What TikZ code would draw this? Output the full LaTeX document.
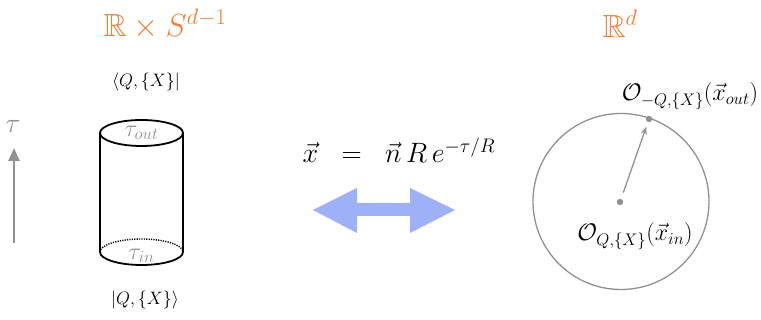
\RequirePackage{fix-cm}
\documentclass[tikz,border=0pt]{standalone}
\usepackage{amsmath,amssymb}
\usetikzlibrary{arrows.meta}
\definecolor{orng}{RGB}{238,128,60}
\definecolor{lblue}{RGB}{158,176,246}
\definecolor{gry}{RGB}{145,145,145}
\tikzset{
  title/.style={text=orng, font=\fontsize{32}{36}\selectfont, inner sep=0pt},
  bra/.style={font=\fontsize{18}{22}\selectfont, inner sep=0pt},
  cyl/.style={line width=1.8pt, black},
  taulab/.style={text=gry, font=\fontsize{24}{28}\selectfont, inner sep=0pt},
  olab/.style={font=\fontsize{24}{28}\selectfont, inner sep=0pt},
  eqn/.style={font=\fontsize{28}{32}\selectfont, inner sep=0pt},
}
\begin{document}
\begin{tikzpicture}[x=1pt,y=-1pt]
\useasboundingbox (0,0) rectangle (761,320);
% titles
\node[title] (t1) at (165,24) {$\mathbb{R}\times S^{d-1}$};
\node[title] (t2) at (620,24) {$\mathbb{R}^d$};
% bra / ket
\node[bra] (bra) at (146,82) {$\langle Q,\{X\}|$};
\node[bra] (ket) at (145,300) {$|Q,\{X\}\rangle$};
% cylinder
\draw[cyl] (141.5,133) ellipse [x radius=41.5, y radius=13];
\draw[cyl] (100,133) -- (100,252) arc[start angle=180, end angle=0, x radius=41.5, y radius=13] -- (183,133);
\draw[line width=1.4pt, dash pattern=on 1.2pt off 1.2pt] (100,252) arc[start angle=180, end angle=360, x radius=41.5, y radius=13];
\node[taulab] (tout) at (141.5,133) {$\tau_{out}$};
\node[taulab] (tin) at (141.5,256) {$\tau_{in}$};
% time arrow
\node[taulab, font=\fontsize{28}{32}\selectfont] (tau) at (13,126) {$\tau$};
\coordinate (ta) at (14,243);
\coordinate (tb) at (14,148);
\draw[gry, line width=2.5pt, -{Triangle[length=13pt,width=11pt]}] (ta) -- (tb);
% equation
\node[eqn] (eq) at (399,150) {$\vec{x}\;\;=\;\;\vec{n}\,R\,e^{-\tau/R}$};
% blue double arrow
\fill[lblue] (313,210) -- (357,188) -- (357,203) -- (410,203) -- (410,188) -- (455,210) -- (410,233) -- (410,216) -- (357,216) -- (357,233) -- cycle;
% circle
\coordinate (cc) at (621,201.5);
\draw[gry, line width=1.3pt] (cc) circle[radius=88];
\coordinate (cin) at (620,202);
\coordinate (cout) at (649,119);
\fill[gry] (cin) circle[radius=3.2];
\fill[gry] (cout) circle[radius=3.2];
\draw[gry, line width=1.3pt, -{Stealth[length=8pt,width=6pt]}, shorten <=10pt, shorten >=8pt] (cin) -- (cout);
\node[olab] (oin) at (635,236) {$\mathcal{O}_{Q,\{X\}}(\vec{x}_{in})$};
\node[olab] (oout) at (690,96) {$\mathcal{O}_{-Q,\{X\}}(\vec{x}_{out})$};
\end{tikzpicture}
\end{document}
